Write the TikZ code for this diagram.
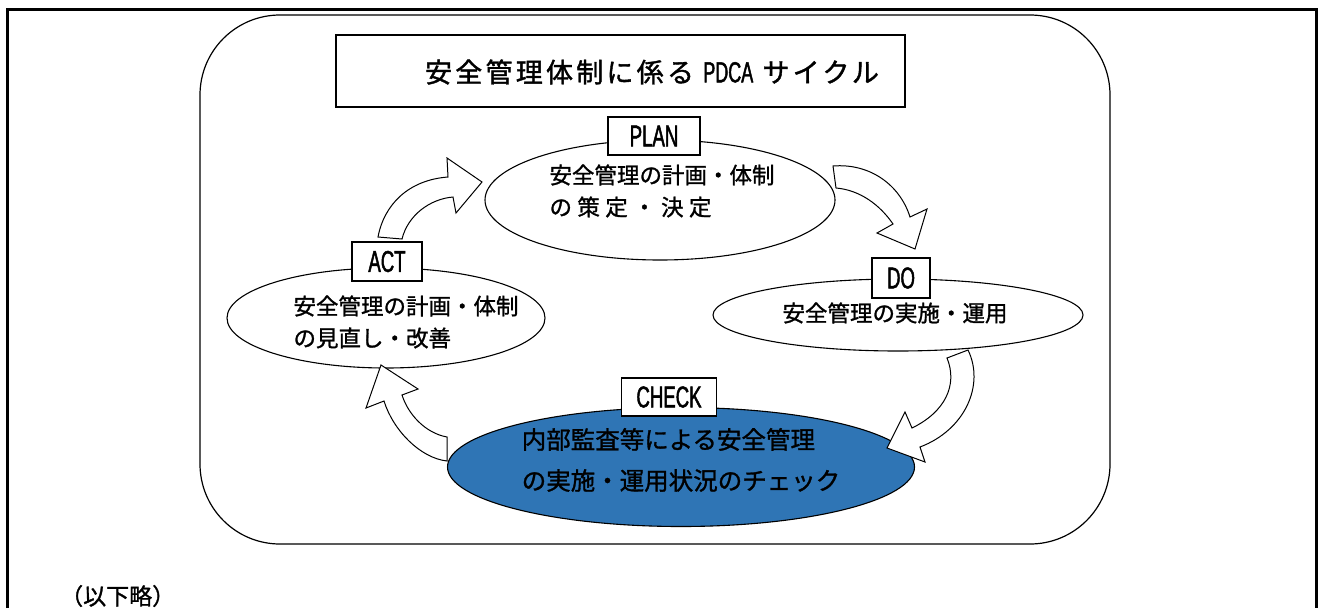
\documentclass[tikz,border=0pt]{standalone}
\usepackage{fontspec}
\setmainfont{Noto Sans CJK JP}
\newfontfamily\jp[FakeBold=1.2]{Noto Sans CJK JP}
\newfontfamily\jpwide[FakeBold=1.2, LetterSpace=24]{Noto Sans CJK JP}
\newfontfamily\titlefont[FakeBold=1.4, LetterSpace=12]{Noto Sans CJK JP}
\newfontfamily\condfont[FakeStretch=0.62, FakeBold=1.5]{Liberation Sans}
\usetikzlibrary{shapes.geometric}
\definecolor{checkblue}{HTML}{2F75B5}
\begin{document}
\begin{tikzpicture}[x=1pt,y=-1pt,
  ell/.style={draw, ellipse, line width=1.1pt, inner sep=0pt, fill=white},
  lbl/.style={draw, line width=1.3pt, fill=white, inner sep=0pt, font=\condfont\fontsize{30}{30}\selectfont},
  body/.style={font=\jp\fontsize{22.5}{32}\selectfont, align=left, inner sep=0pt},
  barrow/.style={draw, fill=white, line width=1pt, line join=miter}
]
\useasboundingbox (0,0) rectangle (1321,608);
% outer frame (open at bottom)
\draw[line width=3pt] (7.5,608) -- (7.5,9.5) -- (1316.5,9.5) -- (1316.5,608);
% rounded panel
\draw[line width=1.2pt, rounded corners=80pt] (200,15) rectangle (1110,544);
% title
\node[draw, line width=2.5pt, minimum width=569pt, minimum height=72pt, inner sep=0pt] (titlebox) at (620.5,71) {};
\node[inner sep=0pt, font=\titlefont\fontsize{27}{27}\selectfont] (title) at (652,72) {安全管理体制に係る {\condfont\fontsize{29}{29}\selectfont PDCA} サイクル};
% ellipses
\node[ell, minimum width=350pt, minimum height=120pt] (plan) at (660,200) {};
\node[ell, minimum width=318pt, minimum height=100pt] (act) at (386,318) {};
\node[ell, minimum width=370pt, minimum height=72pt] (do) at (898,315) {};
\node[ell, fill=checkblue, minimum width=467pt, minimum height=119pt] (check) at (681,467) {};
% label boxes
\node[lbl, minimum width=92pt, minimum height=38pt] (planlbl) at (654,136) {PLAN};
\node[lbl, minimum width=70pt, minimum height=39pt] (actlbl) at (387,261.5) {ACT};
\node[lbl, minimum width=58pt, minimum height=40pt] (dolbl) at (901,278) {DO};
\node[lbl, minimum width=95pt, minimum height=38pt] (checklbl) at (669,397) {CHECK};
% texts
\node[body] (plantext) at (662,191) {安全管理の計画・体制\\{\jpwide の策定・決定}};
\node[body] (acttext) at (406,322) {安全管理の計画・体制\\の見直し・改善};
\node[body] (dotext) at (895,313) {安全管理の実施・運用};
\node[body, font=\jp\fontsize{24.5}{41}\selectfont] (checktext) at (681,460) {内部監査等による安全管理\\の実施・運用状況のチェック};
% block arrows
\draw[barrow] (378,237) .. controls (384,205) and (408,180) .. (448,177) -- (447,158) -- (482,182) -- (456,213) -- (453,197) .. controls (430,199) and (408,215) .. (402,239) -- cycle;
\draw[barrow] (833,166) .. controls (870,163) and (900,185) .. (910,217) -- (927,209) -- (915,249) -- (877,233) -- (893,224) .. controls (880,205) and (860,190) .. (836,188) -- cycle;
\draw[barrow] (968,350) .. controls (985,385) and (965,430) .. (920,447) -- (925,462) -- (887,448) -- (905,412) -- (912,428) .. controls (945,412) and (958,385) .. (947,358) -- cycle;
\draw[barrow] (447,461) .. controls (420,458) and (393,430) .. (384,401) -- (366,408) -- (381,365) -- (418,389) -- (402,395) .. controls (408,414) and (425,433) .. (447,437) -- cycle;
% note
\node[font=\jp\fontsize{23}{23}\selectfont, anchor=west, inner sep=0pt] (note) at (60,596) {（以下略）};
\end{tikzpicture}
\end{document}
